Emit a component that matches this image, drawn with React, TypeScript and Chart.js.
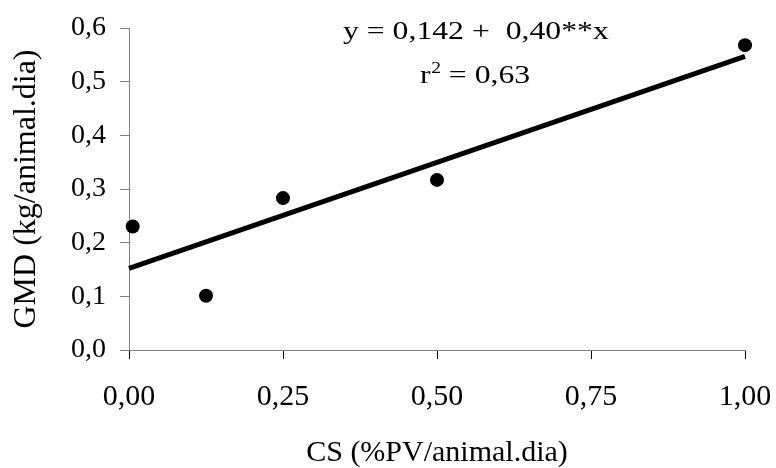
import React, { useEffect, useRef } from 'react';
import { Chart, registerables } from 'chart.js';

Chart.register(...registerables);

const xObserved = [0.006, 0.125, 0.25, 0.5, 1.0];
const yObserved = [0.23, 0.101, 0.283, 0.317, 0.568];
const xFit = [0, 1];
const yFit = [0.152, 0.547];

const xTickValues = [0, 0.25, 0.5, 0.75, 1];
const xTickLabels = ['0,00', '0,25', '0,50', '0,75', '1,00'];
const yTickValues = [0, 0.1, 0.2, 0.3, 0.4, 0.5, 0.6];
const yTickLabels = ['0,0', '0,1', '0,2', '0,3', '0,4', '0,5', '0,6'];

const xTitle = 'CS (%PV/animal.dia)';
const yTitle = 'GMD (kg/animal.dia)';
const equationText = 'y = 0,142 +  0,40**x';
const r2Base = 'r';
const r2Sup = '2';
const r2Rest = ' = 0,63';

const FONT = '"Liberation Serif", "Times New Roman", serif';

const equationPlugin = {
  id: 'equationText',
  afterDraw(chart: any) {
    const { ctx, chartArea } = chart;
    const sx = 1.22;
    ctx.save();
    ctx.fillStyle = '#000';
    ctx.textAlign = 'left';
    ctx.textBaseline = 'alphabetic';
    ctx.translate(chartArea.left + 214, chartArea.top + 10.5);
    ctx.scale(sx, 1);
    ctx.font = `26px ${FONT}`;
    ctx.fillText(equationText, 0, 0);
    ctx.restore();

    ctx.save();
    ctx.fillStyle = '#000';
    ctx.textAlign = 'left';
    ctx.textBaseline = 'alphabetic';
    ctx.translate(chartArea.left + 291, chartArea.top + 55);
    ctx.scale(sx, 1);
    ctx.font = `26px ${FONT}`;
    ctx.fillText(r2Base, 0, 0);
    let w = ctx.measureText(r2Base).width + 0.5;
    ctx.font = `16px ${FONT}`;
    ctx.fillText(r2Sup, w, -10);
    w += ctx.measureText(r2Sup).width;
    ctx.font = `26px ${FONT}`;
    ctx.fillText(r2Rest, w, 0);
    ctx.restore();
  },
};

export default function App() {
  const canvasRef = useRef<HTMLCanvasElement | null>(null);

  useEffect(() => {
    if (!canvasRef.current) return;
    const chart = new Chart(canvasRef.current, {
      type: 'scatter',
      data: {
        datasets: [
          {
            type: 'scatter',
            data: xObserved.map((x, i) => ({ x, y: yObserved[i] })),
            backgroundColor: '#000',
            borderColor: '#000',
            borderWidth: 0,
            pointRadius: 7,
            clip: false,
          } as any,
          {
            type: 'line',
            data: xFit.map((x, i) => ({ x, y: yFit[i] })),
            borderColor: '#000',
            borderWidth: 5,
            borderCapStyle: 'butt',
            pointRadius: 0,
            fill: false,
            clip: false,
          } as any,
        ],
      },
      options: {
        animation: false,
        responsive: false,
        maintainAspectRatio: false,
        layout: { padding: { left: 0, right: 31, top: 28, bottom: 0 } },
        plugins: { legend: { display: false }, tooltip: { enabled: false } },
        scales: {
          x: {
            type: 'linear',
            min: 0,
            max: 1,
            afterBuildTicks: (scale: any) => {
              scale.ticks = xTickValues.map((v) => ({ value: v }));
            },
            afterFit: (scale: any) => {
              scale.height = 118;
              scale.paddingLeft = 0;
              scale.paddingRight = 0;
            },
            ticks: {
              color: '#000',
              font: { family: FONT, size: 30 },
              padding: 20,
              maxRotation: 0,
              autoSkip: false,
              callback: (_v: any, i: number) => xTickLabels[i],
            },
            grid: {
              display: true,
              drawOnChartArea: false,
              drawTicks: true,
              tickLength: 9,
              color: '#000',
            },
            border: { display: true, color: '#808080', width: 1 },
            title: {
              display: true,
              text: xTitle,
              color: '#000',
              font: { family: FONT, size: 30, lineHeight: 1 },
              padding: { top: 0, bottom: 0 },
            },
          },
          y: {
            type: 'linear',
            min: 0,
            max: 0.6,
            afterBuildTicks: (scale: any) => {
              scale.ticks = yTickValues.map((v) => ({ value: v }));
            },
            afterFit: (scale: any) => {
              scale.width = 129;
              scale.paddingTop = 0;
              scale.paddingBottom = 0;
            },
            ticks: {
              color: '#000',
              font: { family: FONT, size: 28 },
              padding: 14,
              autoSkip: false,
              callback: (_v: any, i: number) => yTickLabels[i],
            },
            grid: {
              display: true,
              drawOnChartArea: false,
              drawTicks: true,
              tickLength: 9,
              color: '#808080',
            },
            border: { display: true, color: '#808080', width: 1 },
            title: {
              display: true,
              text: yTitle,
              color: '#000',
              font: { family: FONT, size: 32, lineHeight: 1 },
              padding: { top: 11, bottom: 0 },
            },
          },
        },
      },
      plugins: [equationPlugin],
    });
    return () => chart.destroy();
  }, []);

  return (
    <div style={{ position: 'fixed', left: 0, top: 0, width: 776, height: 468, background: '#fff' }}>
      <canvas ref={canvasRef} width={776} height={468} />
    </div>
  );
}
